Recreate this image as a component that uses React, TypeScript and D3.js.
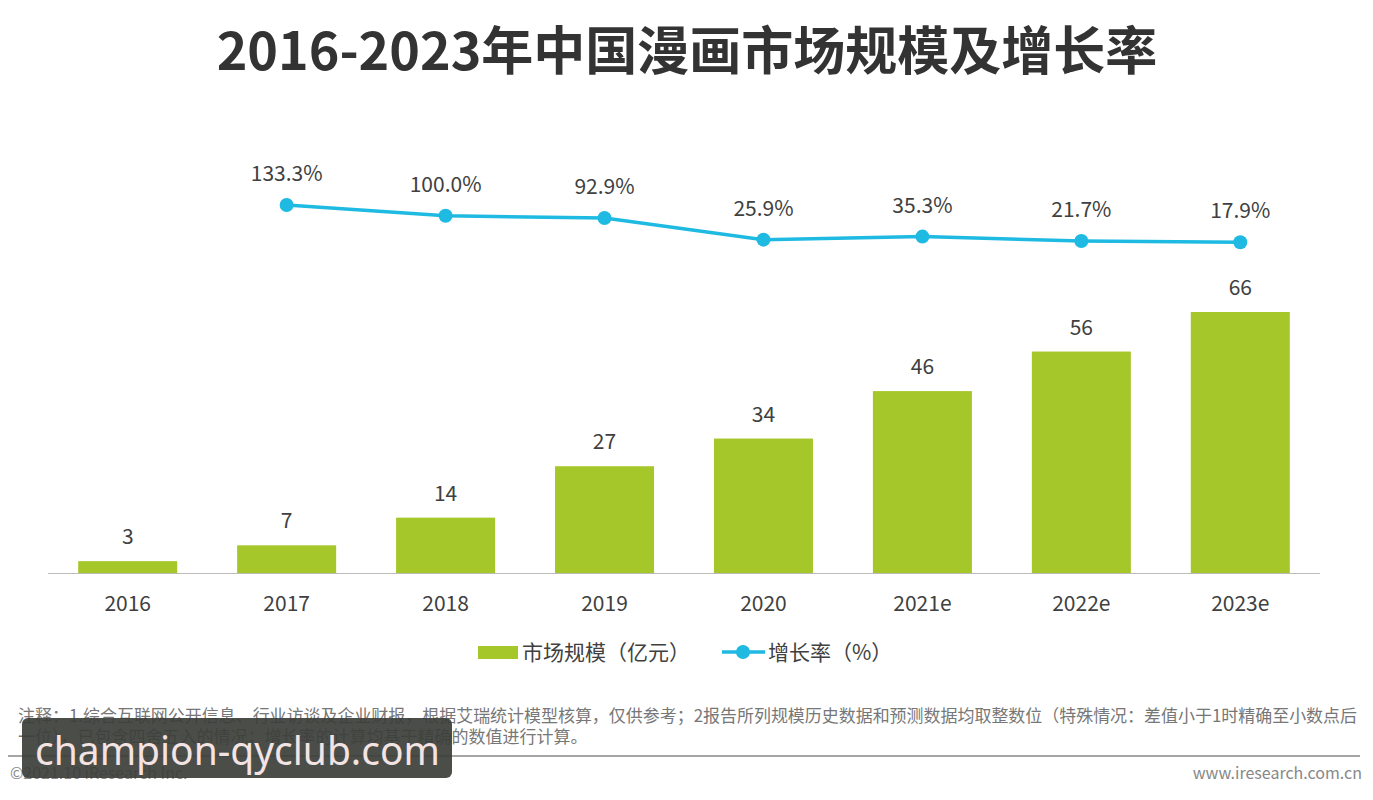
import React from "react";
import * as d3 from "d3";

const categories = ["2016", "2017", "2018", "2019", "2020", "2021e", "2022e", "2023e"];
const marketSize = [3, 7, 14, 27, 34, 46, 56, 66];
const growthRate: (number | null)[] = [null, 133.3, 100.0, 92.9, 25.9, 35.3, 21.7, 17.9];

const title = "2016-2023年中国漫画市场规模及增长率";
const legendBar = "市场规模（亿元）";
const legendLine = "增长率（%）";
const note1 = "注释：1.综合互联网公开信息、行业访谈及企业财报，根据艾瑞统计模型核算，仅供参考；2报告所列规模历史数据和预测数据均取整数位（特殊情况：差值小于1时精确至小数点后";
const note2 = "一位），已包含四舍五入的情况；增长率的计算均基于精确的数值进行计算。";
const copyright = "©2021.10 iResearch Inc.";
const website = "www.iresearch.com.cn";
const watermark = "champion-qyclub.com";

const W = 1373;
const H = 800;
const FONT = "'Noto Sans CJK SC', 'Noto Sans', sans-serif";
const GREEN = "#a6c72a";
const BLUE = "#1ebae2";
const TEXT = "#404040";

export default function App() {
  const x = d3.scaleBand<string>().domain(categories).range([48, 1320]).paddingInner(0.377).paddingOuter(0.19);
  const y = d3.scaleLinear().domain([0, 66]).range([573, 312]);
  const yr = d3.scaleLinear().domain([0, 133.3]).range([248, 205]);

  const pts = categories
    .map((c, i) => ({ c, v: growthRate[i] }))
    .filter((d) => d.v !== null) as { c: string; v: number }[];

  const cx = (c: string) => (x(c) as number) + x.bandwidth() / 2;

  const line = d3
    .line<{ c: string; v: number }>()
    .x((d) => cx(d.c))
    .y((d) => yr(d.v));

  return (
    <svg width={W} height={H} style={{ position: "absolute", left: 0, top: 0, background: "#fff" }} fontFamily={FONT}>
      <rect width={W} height={H} fill="#fff" />
      <text x={687} y={70} textAnchor="middle" fontSize={52} fontWeight={700} fill="#333">
        {title}
      </text>

      {categories.map((c, i) => (
        <g key={c}>
          <rect x={x(c)} y={y(marketSize[i])} width={x.bandwidth()} height={y(0) - y(marketSize[i])} fill={GREEN} />
          <text x={cx(c)} y={y(marketSize[i]) - 17} textAnchor="middle" fontSize={21} fill={TEXT}>
            {marketSize[i]}
          </text>
          <text x={cx(c)} y={611} textAnchor="middle" fontSize={21} fill={TEXT}>
            {c}
          </text>
        </g>
      ))}

      <line x1={48} x2={1320} y1={573.5} y2={573.5} stroke="#bbb" strokeWidth={1} />

      <path d={line(pts) || ""} fill="none" stroke={BLUE} strokeWidth={3.5} />
      {pts.map((d) => (
        <g key={d.c}>
          <circle cx={cx(d.c)} cy={yr(d.v)} r={7} fill={BLUE} />
          <text x={cx(d.c)} y={yr(d.v) - 24} textAnchor="middle" fontSize={21} fill={TEXT}>
            {d.v.toFixed(1) + "%"}
          </text>
        </g>
      ))}

      {/* legend */}
      <rect x={478} y={646} width={40} height={13} fill={GREEN} />
      <text x={522} y={660} fontSize={21} fill={TEXT}>
        {legendBar}
      </text>
      <line x1={722} x2={765} y1={652} y2={652} stroke={BLUE} strokeWidth={3.5} />
      <circle cx={743} cy={652} r={7} fill={BLUE} />
      <text x={768} y={660} fontSize={21} fill={TEXT}>
        {legendLine}
      </text>

      {/* notes */}
      <text x={18} y={722} fontSize={17} fill="#777" textLength={1339} lengthAdjust="spacingAndGlyphs">
        {note1}
      </text>
      <text x={18} y={743} fontSize={17} fill="#777">
        {note2}
      </text>
      <line x1={8} x2={1360} y1={756} y2={756} stroke="#888" strokeWidth={1.5} />
      <text x={10} y={779} fontSize={16} fill="#888">
        {copyright}
      </text>
      <text x={1362} y={779} textAnchor="end" fontSize={16} fill="#888">
        {website}
      </text>

      {/* watermark */}
      <rect x={22} y={718} width={430} height={60} rx={6} fill="#3c3e3a" fillOpacity={0.92} />
      <text
        x={35}
        y={765}
        fontSize={40}
        fontFamily="'Noto Sans', sans-serif"
        fill="#f3e3e3"
        textLength={405}
        lengthAdjust="spacingAndGlyphs"
      >
        {watermark}
      </text>
    </svg>
  );
}
